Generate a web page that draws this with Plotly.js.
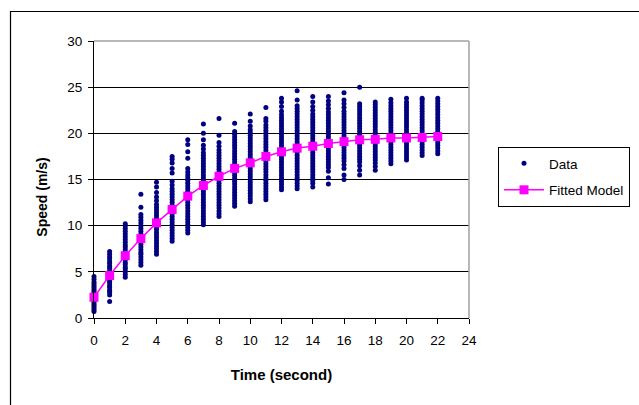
<!DOCTYPE html>
<html>
<head>
<meta charset="utf-8">
<script src="https://cdn.plot.ly/plotly-3.0.1.min.js"></script>
<style>
  html, body { margin: 0; padding: 0; background: #ffffff; }
  #chart { width: 639px; height: 405px; }
</style>
</head>
<body>
<div id="chart"></div>
<script>
const s0  = [0.7,0.9,1.1,1.3,1.5,1.7,1.9,2.1,2.3,2.5,2.7,2.9,3.1,3.3,3.5,3.7,3.9,4.2,4.5];
const s1  = [1.8,2.5,2.8,3.0,3.3,3.5,3.8,4.0,4.3,4.6,4.9,5.1,5.4,5.6,5.9,6.1,6.4,6.6,6.9,7.2];
const s2  = [4.4,4.7,5.0,5.3,5.5,5.8,6.0,6.3,6.6,6.9,7.1,7.4,7.7,7.9,8.2,8.5,8.8,9.1,9.4,9.7,10.0,10.2];
const s3  = [5.7,6.0,6.3,6.6,6.9,7.1,7.4,7.7,8.0,8.3,8.6,8.9,9.1,9.4,9.7,10.0,10.3,10.6,10.9,11.2,12.0,13.4];
const s4  = [6.9,7.2,7.5,7.8,8.1,8.4,8.7,9.0,9.3,9.6,9.9,10.2,10.5,10.8,11.1,11.4,11.7,12.0,12.3,12.7,13.1,13.6,14.2,14.7];
const s5  = [8.3,8.6,8.9,9.2,9.5,9.8,10.1,10.4,10.7,11.0,11.3,11.6,11.9,12.2,12.5,12.8,13.1,13.4,13.7,14.0,14.4,14.8,15.7,16.2,16.8,17.2,17.5];
const s6  = [9.2,9.5,9.8,10.1,10.4,10.7,11.0,11.3,11.6,11.9,12.2,12.5,12.8,13.1,13.4,13.7,14.0,14.3,14.6,14.9,15.2,15.5,15.8,16.2,17.3,18.0,18.8,19.3];
const s7  = [10.1,10.4,10.7,11.0,11.3,11.6,11.9,12.2,12.5,12.8,13.1,13.4,13.7,14.0,14.3,14.6,14.9,15.2,15.5,15.8,16.1,16.4,16.7,17.0,17.3,17.6,17.9,18.3,18.7,19.3,20.0,21.0];
const s8  = [11.0,11.3,11.6,11.9,12.2,12.5,12.8,13.1,13.4,13.7,14.0,14.3,14.6,14.9,15.2,15.5,15.8,16.1,16.4,16.7,17.0,17.3,17.6,17.9,18.2,18.6,19.0,19.8,21.6];
const s9  = [12.1,12.4,12.7,13.0,13.3,13.6,13.9,14.2,14.5,14.8,15.1,15.4,15.7,16.0,16.3,16.6,16.9,17.2,17.5,17.8,18.1,18.4,18.7,19.0,19.3,19.6,19.9,20.2,21.1];
const s10 = [12.6,12.9,13.2,13.5,13.8,14.1,14.4,14.7,15.0,15.3,15.6,15.9,16.2,16.5,16.8,17.1,17.4,17.7,18.0,18.3,18.6,18.9,19.2,19.5,19.8,20.1,20.4,20.8,21.3,22.1];
const s11 = [12.8,13.1,13.4,13.7,14.0,14.3,14.6,14.9,15.2,15.5,15.8,16.1,16.4,16.7,17.0,17.3,17.6,17.9,18.2,18.5,18.8,19.1,19.4,19.7,20.0,20.3,20.6,20.9,21.3,21.6,22.8];
const s12 = [13.9,14.2,14.5,14.8,15.1,15.4,15.7,16.0,16.3,16.6,16.9,17.2,17.5,17.8,18.1,18.4,18.7,19.0,19.3,19.6,19.9,20.2,20.5,20.8,21.1,21.4,21.7,22.0,22.4,22.9,23.4,23.8];
const s13 = [14.0,14.3,14.6,14.9,15.2,15.5,15.8,16.1,16.4,16.7,17.0,17.3,17.6,17.9,18.2,18.5,18.8,19.1,19.4,19.7,20.0,20.3,20.6,20.9,21.2,21.5,21.8,22.1,22.4,22.7,23.0,23.6,24.6];
const s14 = [14.2,14.6,14.9,15.2,15.5,15.8,16.1,16.4,16.7,17.0,17.3,17.6,17.9,18.2,18.5,18.8,19.1,19.4,19.7,20.0,20.3,20.6,20.9,21.2,21.5,21.8,22.1,22.5,22.9,23.4,24.0];
const s15 = [14.5,15.2,15.9,16.3,16.6,16.9,17.2,17.5,17.8,18.1,18.4,18.7,19.0,19.3,19.6,19.9,20.2,20.5,20.8,21.1,21.4,21.7,22.0,22.3,22.7,23.1,23.5,24.0];
const s16 = [15.0,15.5,16.2,16.6,17.0,17.3,17.6,17.9,18.2,18.5,18.8,19.1,19.4,19.7,20.0,20.3,20.6,20.9,21.2,21.5,21.8,22.1,22.4,22.8,23.2,23.6,24.4];
const s17 = [15.5,16.0,16.5,16.9,17.2,17.5,17.8,18.1,18.4,18.7,19.0,19.3,19.6,19.9,20.2,20.5,20.8,21.1,21.4,21.7,22.0,22.3,22.6,22.9,23.2,25.0];
const s18 = [16.0,16.4,16.8,17.1,17.4,17.7,18.0,18.3,18.6,18.9,19.2,19.5,19.8,20.1,20.4,20.7,21.0,21.3,21.6,21.9,22.2,22.5,22.8,23.1,23.4];
const s19 = [16.7,17.0,17.3,17.6,17.9,18.2,18.5,18.8,19.1,19.4,19.7,20.0,20.3,20.6,20.9,21.2,21.5,21.8,22.1,22.4,22.7,23.0,23.3,23.7];
const s20 = [17.1,17.4,17.7,18.0,18.3,18.6,18.9,19.2,19.5,19.8,20.1,20.4,20.7,21.0,21.3,21.6,21.9,22.2,22.5,22.8,23.1,23.4,23.8];
const s21 = [17.6,17.9,18.2,18.5,18.8,19.1,19.4,19.7,20.0,20.3,20.6,20.9,21.2,21.5,21.8,22.1,22.4,22.7,23.0,23.3,23.6,23.8];
const s22 = [17.8,18.1,18.4,18.7,19.0,19.3,19.6,19.9,20.2,20.5,20.8,21.1,21.4,21.7,22.0,22.3,22.6,22.9,23.2,23.5,23.8];

const dataColumns = [s0,s1,s2,s3,s4,s5,s6,s7,s8,s9,s10,s11,s12,s13,s14,s15,s16,s17,s18,s19,s20,s21,s22];

// Fitted model
const fitTime  = [0,1,2,3,4,5,6,7,8,9,10,11,12,13,14,15,16,17,18,19,20,21,22];
const fitSpeed = [2.25,4.6,6.75,8.6,10.3,11.75,13.2,14.35,15.35,16.2,16.8,17.5,18.0,18.4,18.6,18.9,19.1,19.3,19.35,19.5,19.5,19.55,19.65];

// Axis ticks
const xTicks = [0,2,4,6,8,10,12,14,16,18,20,22,24];
const yTicks = [0,5,10,15,20,25,30];

const dataX = [], dataY = [];
dataColumns.forEach(function (col, t) {
  col.forEach(function (v) { dataX.push(t); dataY.push(v); });
});

const FONT = 'Liberation Sans, Arial, sans-serif';
const PAD = '&nbsp;'.repeat(9);

const traces = [
  {
    type: 'scatter', mode: 'markers', name: 'Data',
    x: dataX, y: dataY,
    marker: { color: '#000080', size: 5, line: { width: 0 } },
    legendgroup: 'a', cliponaxis: false
  },
  {
    type: 'scatter', mode: 'lines+markers', name: 'Fitted Model',
    x: fitTime, y: fitSpeed,
    line: { color: '#ff00ff', width: 1.5 },
    marker: { color: '#ff00ff', symbol: 'square', size: 9 },
    legendgroup: 'b', cliponaxis: false
  }
];

const L = 94, R = 170, T = 41, B = 87;
const pw = 639 - L - R, ph = 405 - T - B;
function px(x) { return (x - L) / pw; }
function py(y) { return (405 - B - y) / ph; }

const layout = {
  width: 639, height: 405,
  margin: { l: L, r: R, t: T, b: B, autoexpand: false },
  paper_bgcolor: '#ffffff', plot_bgcolor: '#ffffff',
  font: { family: FONT, size: 13, color: '#000000' },
  showlegend: true,
  legend: {
    x: px(498), y: py(147), xanchor: 'left', yanchor: 'top',
    bgcolor: '#ffffff', bordercolor: '#000000', borderwidth: 1,
    font: { family: FONT, size: 13.5, color: '#000000' },
    tracegroupgap: 6, itemwidth: 40, traceorder: 'grouped'
  },
  xaxis: {
    range: [0, 24], tickvals: xTicks, ticktext: xTicks.map(String),
    showgrid: false, zeroline: false,
    showline: true, linecolor: '#000000', linewidth: 1,
    ticks: 'outside', ticklen: 5, tickcolor: '#000000',
    ticklabelstandoff: 5,
    tickfont: { family: FONT, size: 13.5 },
    title: { text: '<b>Time (second)</b>', font: { family: FONT, size: 15 }, standoff: 22 }
  },
  yaxis: {
    range: [0, 30], tickvals: yTicks, ticktext: yTicks.map(String),
    showgrid: true, gridcolor: '#000000', gridwidth: 1, zeroline: false,
    showline: true, linecolor: '#000000', linewidth: 1,
    ticks: 'outside', ticklen: 5, tickcolor: '#000000',
    ticklabelstandoff: 3,
    tickfont: { family: FONT, size: 13.5 },
    title: { text: '<b>Speed (m/s)</b>' + PAD, font: { family: FONT, size: 14 }, standoff: 16 }
  },
  shapes: [
    // plot-area border (top and right), grey
    { type: 'line', xref: 'paper', yref: 'paper', x0: 0, x1: 1, y0: 1, y1: 1, line: { color: '#a0a0a0', width: 1.5 } },
    { type: 'line', xref: 'paper', yref: 'paper', x0: 1, x1: 1, y0: 0, y1: 1, line: { color: '#a0a0a0', width: 1.5 } },
    // outer chart frame
    { type: 'rect', xref: 'paper', yref: 'paper', layer: 'below',
      x0: px(10.5), x1: px(660), y0: py(11.5), y1: py(430),
      line: { color: '#000000', width: 1.2 }, fillcolor: 'rgba(0,0,0,0)' }
  ]
};

Plotly.newPlot('chart', traces, layout, { displayModeBar: false, staticPlot: true });
</script>
</body>
</html>
